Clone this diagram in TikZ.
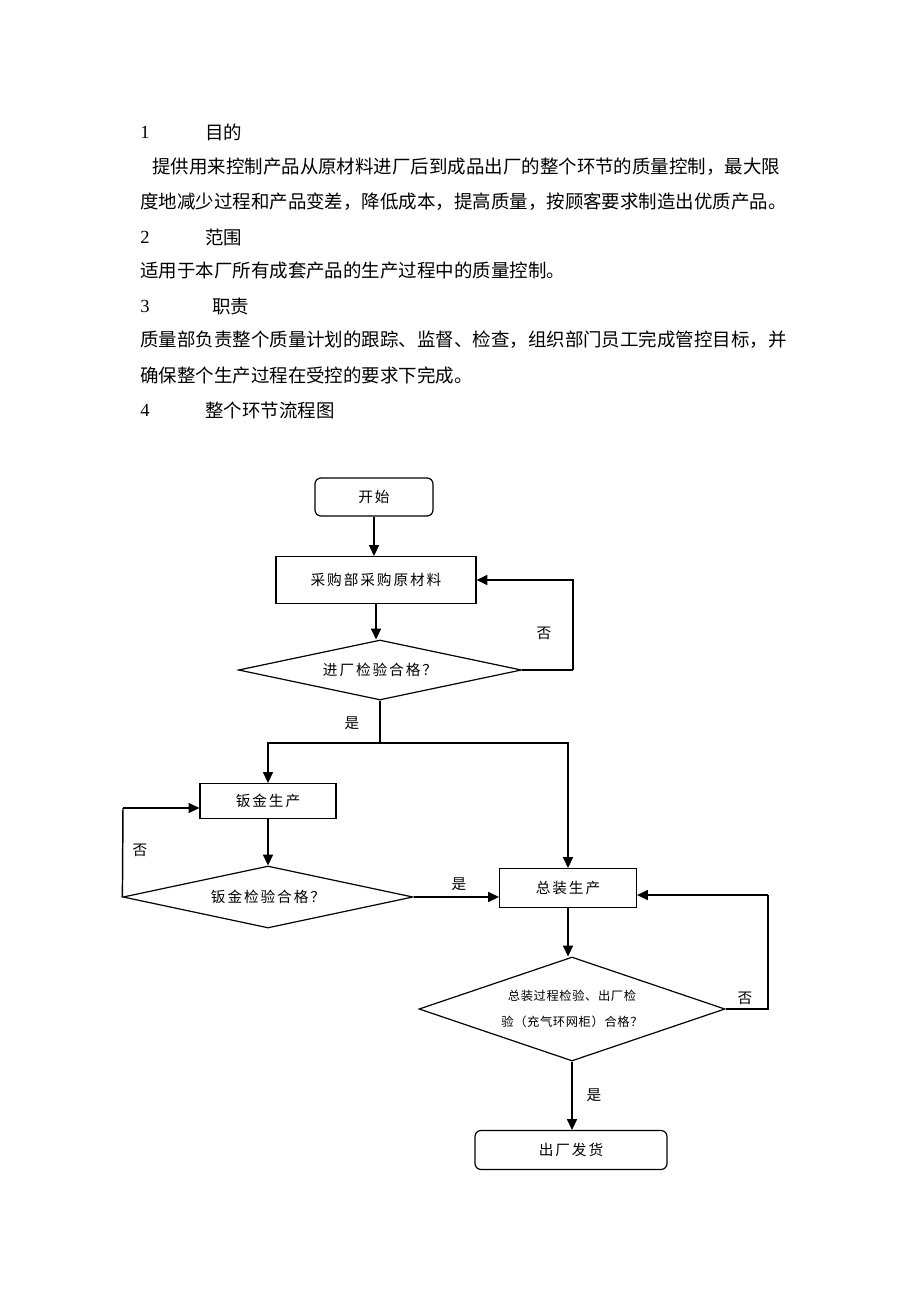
\documentclass[tikz,border=0pt]{standalone}
\usepackage{fontspec}
\setmainfont{Liberation Serif}
\newfontfamily\cjk{Noto Sans CJK SC}
\newfontfamily\cjkfc[LetterSpace=13]{Noto Sans CJK SC}
\newfontfamily\cjksm[LetterSpace=5]{Noto Sans CJK SC}
\usetikzlibrary{shapes.geometric,arrows.meta}
\begin{document}
\begin{tikzpicture}[x=0.75pt,y=-0.75pt,
  body/.style={anchor=west,inner sep=0pt,font=\fontsize{13.85}{16}\selectfont\cjk},
  num/.style={anchor=west,inner sep=0pt,font=\fontsize{13.85}{16}\selectfont},
  proc/.style={draw,line width=0.9pt,inner sep=0pt,font=\fontsize{11}{13}\selectfont\cjkfc},
  term/.style={proc,rounded corners=4.5pt},
  dec/.style={draw,diamond,line width=0.9pt,inner sep=0pt,font=\fontsize{11}{13}\selectfont\cjkfc},
  lab/.style={inner sep=0pt,font=\fontsize{11}{13}\selectfont\cjk},
  arr/.style={line width=1.1pt,-{Triangle[length=8pt,width=7.5pt]}},
  ln/.style={line width=1.1pt}]
\useasboundingbox (0,0) rectangle (920,1302);
\fill[white] (0,0) rectangle (920,1302);
% text
\node[num] (n1) at (140,132) {1};
\node[body] (h1) at (205,132) {目的};
\node[body] (p1) at (152,167) {提供用来控制产品从原材料进厂后到成品出厂的整个环节的质量控制，最大限};
\node[body] (p2) at (140,202) {度地减少过程和产品变差，降低成本，提高质量，按顾客要求制造出优质产品。};
\node[num] (n2) at (140,237) {2};
\node[body] (h2) at (205,237) {范围};
\node[body] (p3) at (140,271) {适用于本厂所有成套产品的生产过程中的质量控制。};
\node[num] (n3) at (140,306) {3};
\node[body] (h3) at (212,306) {职责};
\node[body] (p4) at (140,340) {质量部负责整个质量计划的跟踪、监督、检查，组织部门员工完成管控目标，并};
\node[body] (p5) at (140,375) {确保整个生产过程在受控的要求下完成。};
\node[num] (n4) at (140,410) {4};
\node[body] (h4) at (205,410) {整个环节流程图};
% flowchart nodes
\node[term,minimum width=118*0.75pt,minimum height=38*0.75pt] (start) at (374,497) {开始};
\node[proc,minimum width=200*0.75pt,minimum height=47*0.75pt] (buy) at (376,580) {采购部采购原材料};
\node[dec,aspect=4.7,minimum width=283*0.75pt,minimum height=60*0.75pt] (d1) at (380,670) {进厂检验合格？};
\node[proc,minimum width=136*0.75pt,minimum height=35*0.75pt] (sheet) at (268,801) {钣金生产};
\node[dec,aspect=4.68,minimum width=290*0.75pt,minimum height=62*0.75pt] (d2) at (268,897) {钣金检验合格？};
\node[proc,minimum width=137*0.75pt,minimum height=39*0.75pt] (asm) at (568,888) {总装生产};
\node[dec,aspect=2.94,minimum width=306*0.75pt,minimum height=104*0.75pt,font=\fontsize{9.2}{19.5}\selectfont\cjksm,align=center] (d3) at (572,1009) {总装过程检验、出厂检\\验（充气环网柜）合格？};
\node[term,minimum width=192*0.75pt,minimum height=39*0.75pt] (ship) at (571,1150) {出厂发货};
% coordinates
\coordinate (c1) at (573,670);
\coordinate (j1) at (380,743);
\coordinate (c2) at (123,808);
\coordinate (c3) at (768,1009);
\coordinate (c3b) at (768,895);
% connectors
\draw[arr] (start.south) -- (start.south |- buy.north);
\draw[arr] (buy.south) -- (buy.south |- d1.north);
\draw[ln] (d1.east) -- (c1);
\draw[arr] (c1) |- (buy.east);
\draw[ln] (d1.south) -- (j1);
\draw[arr] (j1) -| (sheet.north);
\draw[arr] (j1) -| (asm.north);
\draw[arr] (sheet.south) -- (d2.north);
\draw[ln] (d2.west) -- (c2);
\draw[arr] (c2) -- (c2 -| sheet.west);
\draw[arr] (d2.east) -- (d2.east -| asm.west);
\draw[arr] (asm.south) -- (asm.south |- d3.north);
\draw[ln] (d3.east) -- (c3) -- (c3b);
\draw[arr] (c3b) -- (c3b -| asm.east);
\draw[arr] (d3.south) -- (d3.south |- ship.north);
% labels
\node[lab] (l1) at (544,633) {否};
\node[lab] (l2) at (352,723) {是};
\node[lab] (l3) at (140,850) {否};
\node[lab] (l4) at (459,884) {是};
\node[lab] (l5) at (745,998) {否};
\node[lab] (l6) at (594,1095) {是};
\end{tikzpicture}
\end{document}
